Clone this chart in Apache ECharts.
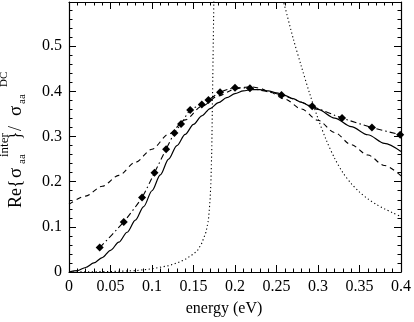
<!DOCTYPE html>
<html>
<head>
<meta charset="utf-8">
<script src="https://cdn.jsdelivr.net/npm/echarts@6/dist/echarts.min.js"></script>
<style>
	html, body { margin: 0; padding: 0; background: #fff; }
	#chart { width: 414px; height: 322px; }
</style>
</head>
<body>
<div id="chart"></div>
<script>
// solid curve
var solidX = [0, 0.01, 0.02, 0.03, 0.04, 0.05, 0.06, 0.07, 0.08, 0.09, 0.10, 0.11, 0.12, 0.13, 0.14, 0.15,
	0.16, 0.17, 0.18, 0.19, 0.20, 0.21, 0.22, 0.23, 0.24, 0.25, 0.26, 0.27, 0.28, 0.29, 0.30,
	0.32, 0.34, 0.36, 0.38, 0.40];
var solidY = [0, 0.003, 0.010, 0.020, 0.032, 0.048, 0.066, 0.088, 0.115, 0.145, 0.180, 0.215, 0.250, 0.280, 0.305, 0.327,
	0.346, 0.362, 0.375, 0.386, 0.395, 0.401, 0.404, 0.404, 0.401, 0.397, 0.391, 0.384, 0.376, 0.368, 0.360,
	0.341, 0.322, 0.304, 0.285, 0.267];

// dashed curve
var dashX = [0, 0.02, 0.04, 0.06, 0.08, 0.10, 0.12, 0.14, 0.16, 0.18, 0.20, 0.21, 0.22, 0.23, 0.24,
	0.26, 0.28, 0.30, 0.32, 0.34, 0.36, 0.38, 0.40];
var dashY = [0.150, 0.168, 0.190, 0.214, 0.243, 0.272, 0.305, 0.337, 0.367, 0.390, 0.405, 0.409, 0.410, 0.407, 0.400,
	0.383, 0.361, 0.336, 0.309, 0.282, 0.259, 0.236, 0.213];

// dash-dot curve with diamonds
var dotX = [0.037, 0.066, 0.088, 0.103, 0.117, 0.127, 0.135, 0.146, 0.160, 0.168, 0.182, 0.200, 0.218,
	0.256, 0.293, 0.329, 0.365, 0.399];
var dotY = [0.054, 0.111, 0.165, 0.220, 0.272, 0.308, 0.328, 0.359, 0.371, 0.381, 0.398, 0.408, 0.407,
	0.392, 0.367, 0.341, 0.320, 0.304];

// dotted curve, left branch then right branch
var leftX = [0, 0.05, 0.08, 0.10, 0.12, 0.13, 0.14, 0.15, 0.155, 0.16, 0.165, 0.168, 0.170, 0.171, 0.172, 0.173, 0.1745, 0.1755];
var leftY = [0, 0.001, 0.003, 0.007, 0.014, 0.020, 0.028, 0.040, 0.048, 0.064, 0.088, 0.115, 0.160, 0.200, 0.270, 0.400, 0.600, 0.800];
var rightX = [0.255, 0.26, 0.27, 0.28, 0.29, 0.30, 0.31, 0.32, 0.33, 0.34, 0.35, 0.36, 0.37, 0.38, 0.39, 0.40];
var rightY = [0.62, 0.588, 0.518, 0.455, 0.395, 0.340, 0.292, 0.252, 0.220, 0.196, 0.177, 0.162, 0.150, 0.140, 0.131, 0.123];

function pairs(xs, ys) {
	var out = [];
	for (var i = 0; i < xs.length; i++) {
		out.push([xs[i], ys[i]]);
	}
	return out;
}

var FONT = '"Liberation Serif", "DejaVu Serif", serif';

// one piece of the rotated y label; x runs up the page, y runs right
function txt(s, size, x, y) {
	return {
		type: 'text', x: x, y: y,
		style: {text: s, font: size + 'px ' + FONT, fill: '#000', verticalAlign: 'middle', align: 'left'}
	};
}

var myChart = echarts.init(document.getElementById('chart'));

function xAxisOpt(pos, labels) {
	return {
		type: 'value',
		position: pos,
		min: 0,
		max: 0.4,
		interval: 0.05,
		name: labels ? 'energy (eV)' : '',
		nameLocation: 'middle',
		nameGap: 29,
		nameTextStyle: {fontFamily: FONT, fontSize: 16, color: '#000', padding: [0, 22, 0, 0]},
		axisLine: {onZero: false, lineStyle: {color: '#000', width: 1.2}},
		axisTick: {inside: true, length: 7, lineStyle: {color: '#000', width: 1}},
		minorTick: {show: true, splitNumber: 5, length: 3.5, lineStyle: {color: '#000', width: 1}},
		axisLabel: {show: labels, margin: 7, fontFamily: FONT, fontSize: 16, color: '#000'},
		splitLine: {show: false}
	};
}

function yAxisOpt(pos, labels) {
	return {
		type: 'value',
		position: pos,
		min: 0,
		max: 0.598,
		interval: 0.1,
		axisLine: {onZero: false, lineStyle: {color: '#000', width: 1.2}},
		axisTick: {inside: true, length: 7, lineStyle: {color: '#000', width: 1}},
		minorTick: {show: true, splitNumber: 5, length: 3.5, lineStyle: {color: '#000', width: 1}},
		axisLabel: {show: labels, margin: 7, showMaxLabel: false, fontFamily: FONT, fontSize: 16, color: '#000'},
		splitLine: {show: false}
	};
}

var option = {
	backgroundColor: '#fff',
	animation: false,
	grid: {left: 69, right: 10.5, top: 2, bottom: 45},
	xAxis: [xAxisOpt('bottom', true), xAxisOpt('top', false)],
	yAxis: [yAxisOpt('left', true), yAxisOpt('right', false)],
	graphic: [{
		type: 'group',
		x: 0,
		y: 208,
		rotation: Math.PI / 2,
		children: [
			txt('Re{', 18, 0, 16),
			txt('σ', 19, 30, 16),
			txt('aa', 11, 44, 22.5),
			txt('inter', 13, 51, 4.5),
			txt('}', 18, 68, 16),
			txt('/', 18, 77, 16),
			txt('σ', 19, 92, 16),
			txt('aa', 11, 104, 22.5),
			txt('DC', 11, 121, 4.5)
		]
	}],
	series: [
		{
			name: 'solid',
			type: 'line',
			data: pairs(solidX, solidY),
			showSymbol: false,
			smooth: 0.3,
			smoothMonotone: 'x',
			lineStyle: {color: '#000', width: 1.2, type: 'solid'}
		},
		{
			name: 'dashed',
			type: 'line',
			data: pairs(dashX, dashY),
			showSymbol: false,
			smooth: 0.3,
			smoothMonotone: 'x',
			lineStyle: {color: '#000', width: 1.1, type: [5, 4]}
		},
		{
			name: 'dotted-left',
			type: 'line',
			data: pairs(leftX, leftY),
			showSymbol: false,
			lineStyle: {color: '#000', width: 1.1, type: [1.2, 2.6]}
		},
		{
			name: 'dotted-right',
			type: 'line',
			data: pairs(rightX, rightY),
			showSymbol: false,
			smooth: 0.3,
			lineStyle: {color: '#000', width: 1.1, type: [1.2, 2.6]}
		},
		{
			name: 'dashdot',
			type: 'line',
			data: pairs(dotX, dotY),
			clip: false,
			symbol: 'diamond',
			symbolSize: 8,
			itemStyle: {color: '#000'},
			smooth: 0.2,
			lineStyle: {color: '#000', width: 1.1, type: [6, 3, 1.5, 3]}
		}
	]
};

myChart.setOption(option);
</script>
</body>
</html>
